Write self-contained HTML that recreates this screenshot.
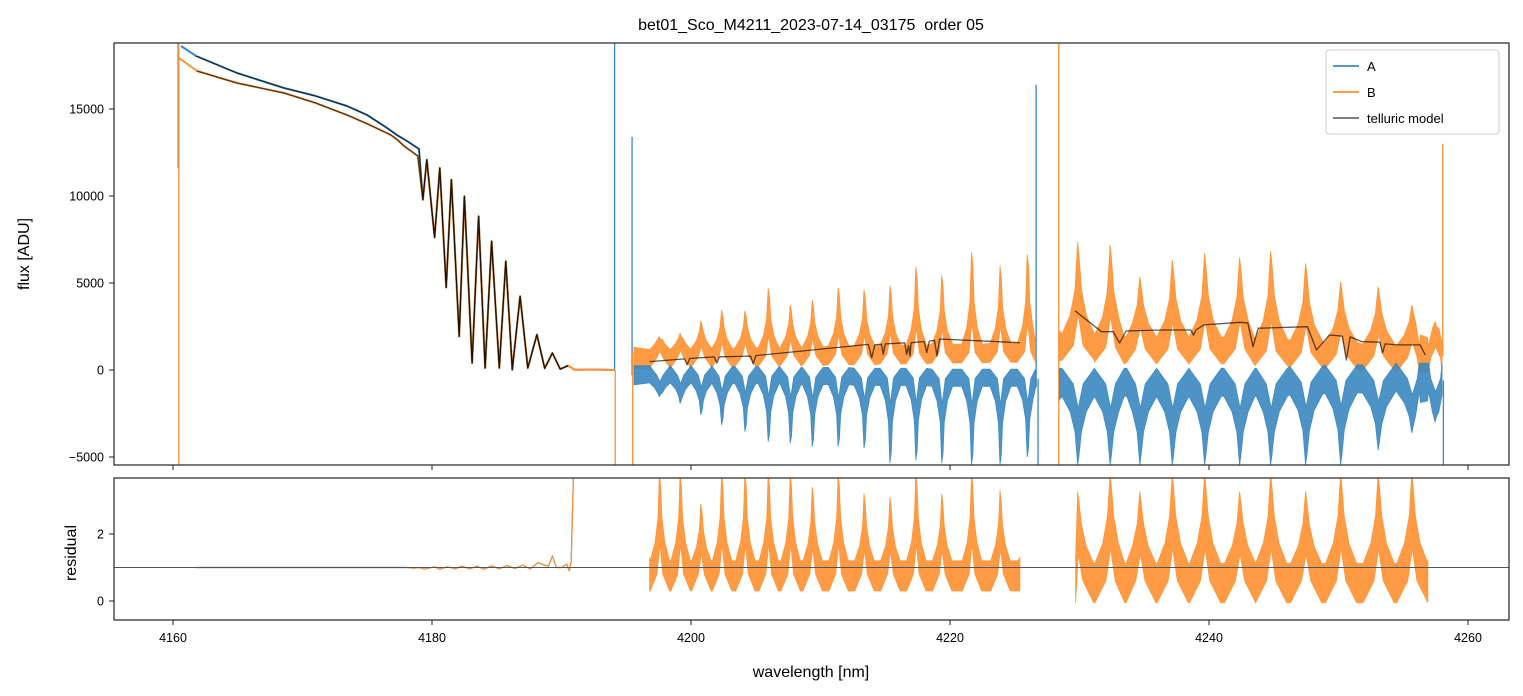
<!DOCTYPE html>
<html><head><meta charset="utf-8"><style>
html,body{margin:0;padding:0;background:#fff;}
svg{display:block;font-family:"Liberation Sans","DejaVu Sans",sans-serif;}
</style></head><body>
<svg id="chart" width="1523" height="696" viewBox="0 0 1523 696" xmlns="http://www.w3.org/2000/svg">
<defs>
<clipPath id="clipTop"><rect x="114" y="43" width="1395" height="422"/></clipPath>
<clipPath id="clipBot"><rect x="114" y="478" width="1395" height="142"/></clipPath>
</defs>
<text x="811" y="30" text-anchor="middle" font-size="16" style="white-space:pre">bet01_Sco_M4211_2023-07-14_03175&#160;&#160;order 05</text>
<g id="topMarks" clip-path="url(#clipTop)"></g>
<g id="botMarks" clip-path="url(#clipBot)"></g>
<rect x="114" y="43" width="1395" height="422" fill="none" stroke="#222" stroke-width="1.2"/>
<rect x="114" y="478" width="1395" height="142" fill="none" stroke="#222" stroke-width="1.2"/>
<g id="axes"></g>
<text transform="translate(29,254) rotate(-90)" text-anchor="middle" font-size="16">flux [ADU]</text>
<text transform="translate(76,553) rotate(-90)" text-anchor="middle" font-size="16">residual</text>
<text x="811" y="677" text-anchor="middle" font-size="16">wavelength [nm]</text>
<g>
<rect x="1326" y="50" width="173" height="84" rx="3" fill="#fff" fill-opacity="0.85" stroke="#ccc"/>
<g><line x1="1333" y1="66" x2="1359" y2="66" stroke="#1f77b4" stroke-width="1.6"/><text x="1367" y="71" font-size="13">A</text></g>
<g><line x1="1333" y1="92" x2="1359" y2="92" stroke="#ff7f0e" stroke-width="1.6"/><text x="1367" y="97" font-size="13">B</text></g>
<g><line x1="1333" y1="118" x2="1359" y2="118" stroke="#555" stroke-width="1.6"/><text x="1367" y="123" font-size="13">telluric model</text></g>
</g>
</svg>
<script>
// ---- data ----
const xTicks=[4160,4180,4200,4220,4240,4260];
const yTicksTop=[-5000,0,5000,10000,15000];
const yTicksBot=[0,2];
// region 1 smooth continuum
const a1W=[4160.62,4161.78,4164.94,4168.57,4171.0,4173.44,4175.0,4176.53,4177.3,4178.07,4179.0];
const a1V=[18620,18046,17069,16207,15750,15172,14650,13908,13500,13161,12700];
const b1W=[4160.46,4161.85,4164.94,4168.57,4171.0,4173.44,4175.0,4176.83,4177.3,4177.84,4178.9];
const b1V=[17931,17184,16494,15919,15350,14655,14150,13506,13250,12874,12300];
// region 1 oscillating telluric band (shared)
const oscW=[4179.3,4179.6,4180.2,4180.6,4181.1,4181.5,4182.1,4182.5,4183.1,4183.6,4184.1,4184.6,4185.2,4185.7,4186.2,4186.8,4187.4,4188.1,4188.7,4189.3,4189.9,4190.5,4191.0,4192.5,4194.1];
const oscV=[9787,12086,7615,11609,4741,10937,1934,9983,400,8834,115,7397,115,6248,20,4236,115,2030,100,977,50,250,20,30,0];
// region 2/3 peaks
const pkW2=[4197.6,4199.2,4200.8,4202.4,4204.2,4206.0,4207.7,4209.4,4211.4,4213.4,4215.4,4217.4,4219.4,4221.7,4223.9,4226.0];
const bPeak2=[1914,2107,2833,3448,3408,4694,3736,4023,4730,4598,4845,5937,5440,6782,5977,6667];
const bBase2=[700,700,750,750,800,800,850,850,900,900,950,950,1000,1000,1050,1050];
const aDip2=[-1534,-1914,-2586,-3161,-3546,-4121,-4213,-4408,-4408,-4500,-5345,-5172,-5345,-5460,-5460,-5000];
const aBase2=[-300,-300,-300,-350,-350,-350,-400,-400,-400,-450,-450,-450,-500,-500,-500,-500];
const pkW3=[4229.9,4232.4,4234.7,4237.2,4239.7,4242.4,4244.8,4247.5,4250.2,4253.1,4255.7,4257.5];
const bPeak3=[7374,7184,5362,6322,6705,6475,6839,6130,5075,4787,3736,2776];
const bBase3=[1400,1300,1200,1200,1200,1200,1100,1000,900,800,700,700];
const aDip3=[-5460,-5460,-5460,-5460,-5460,-5460,-5460,-5460,-5460,-4600,-3620,-3000];
const aBase3=[-800,-800,-800,-800,-800,-800,-800,-700,-600,-600,-500,-500];
// residual peaks (region 3 residual ends before last flux peak)
const resPkW3=[4229.9,4232.4,4234.7,4237.2,4239.7,4242.4,4244.8,4247.5,4250.2,4253.1,4255.7];
const resPeak2=[3.8,3.8,2.9,3.8,3.8,3.8,3.8,3.4,3.8,3.2,3.1,3.8,3.2,3.8,3.3,3.3];
const resPeak3=[3.27,3.8,3.27,3.8,3.8,3.27,3.8,3.27,3.8,3.8,3.8];
// telluric model region 2/3
const mW2=[4196.8,4199.5,4199.7,4199.9,4201.8,4202.0,4202.2,4204.6,4204.8,4205.0,4213.7,4213.95,4214.2,4214.7,4214.85,4215.0,4216.5,4216.65,4216.8,4216.9,4217.0,4218.0,4218.2,4218.4,4218.8,4219.0,4219.2,4225.4];
const mV2=[480,640,300,660,750,400,760,800,350,830,1470,700,1450,1480,900,1500,1560,900,1400,800,1570,1640,1000,1660,1700,800,1780,1570];
const mW3=[4229.65,4231.7,4232.6,4233.1,4233.6,4236.4,4238.6,4238.8,4239.0,4239.6,4242.4,4243.0,4243.4,4243.8,4244.2,4247.6,4248.3,4249.3,4250.3,4250.6,4250.9,4251.8,4253.2,4253.4,4253.6,4254.5,4256.3,4256.7];
const mV3=[3410,2200,2200,1550,2240,2300,2300,2000,2300,2590,2740,2700,1340,2400,2410,2490,1150,2010,1950,575,1900,1630,1600,977,1500,1440,1440,860];
// spikes [wavelength, from, to]
const spikeAW=[4160.4,4194.1,4195.45,4226.65,4226.8,4258.1];
const spikeAFrom=[11600,0,-300,-1000,-500,-600];
const spikeATo=[19500,19500,13400,16400,-6000,-6000];
const spikeBW=[4160.45,4194.15,4195.5,4228.4,4258.05];
const spikeBFrom=[19500,0,1000,-6000,800];
const spikeBTo=[-6000,-6000,-6000,19500,13000];
// residuals region 1
const resW1=[4161.7,4170,4178,4178.6,4179.0,4179.4,4180.2,4180.6,4181.2,4181.8,4182.3,4182.9,4183.5,4184.0,4184.6,4185.2,4185.8,4186.4,4187.0,4187.6,4188.2,4188.6,4189.0,4189.3,4189.6,4190.0,4190.4,4190.6,4190.75,4190.95];
const resV1=[1,1,1,0.98,1.0,0.95,1.02,0.95,1.02,0.96,1.04,0.96,1.04,0.95,1.05,0.96,1.06,0.97,1.07,0.96,1.15,1.08,1.04,1.35,1.0,1.0,1.1,0.9,1.2,4.2];
const resRange2=[4196.8,4225.4];
const resRange3=[4229.7,4256.9];
const range2=[4195.6,4226.6];
const range3=[4228.45,4258.0];

// ---- scales ----
const xs=w=>173+(w-4160)*12.95;
const yt=v=>370-v*87/5000;
const yb=r=>601-r*33.5;
const NS="http://www.w3.org/2000/svg";
const top_=document.getElementById('topMarks');
const bot=document.getElementById('botMarks');
const axes=document.getElementById('axes');
const BLUE="#3a87c0", ORANGE="#ff9030";

function mk(tag,attrs,parent){const e=document.createElementNS(NS,tag);for(const k in attrs)e.setAttribute(k,attrs[k]);parent.appendChild(e);return e;}
function poly(W,V,ys,color,width,parent,name){
  const pts=W.map((w,i)=>xs(w).toFixed(1)+","+ys(V[i]).toFixed(1)).join(" ");
  const e=mk('polyline',{points:pts,fill:'none',stroke:color,'stroke-width':width,'stroke-linejoin':'round'},parent);
  
  
  return e;
}
function band(pkW,pk,base,half,shoulder,range,ys,sign,color,parent,name){
  const up=[],lo=[];
  up.push([range[0],base[0]+half]);lo.push([range[0],base[0]-half]);
  for(let i=0;i<pkW.length;i++){
    const p=pkW[i],b=base[i],h=pk[i];
    const ext=(h-b);
    if(sign>0){
      up.push([p-shoulder,b+half*0.8]);up.push([p-shoulder*0.5,b+half+ext*0.15]);up.push([p-shoulder*0.2,b+half+ext*0.4]);up.push([p-0.04,h]);up.push([p+0.06,h*0.9]);up.push([p+shoulder*0.2,b+half+ext*0.4]);up.push([p+shoulder*0.5,b+half+ext*0.15]);up.push([p+shoulder,b+half*0.8]);
      lo.push([p-shoulder,b-half]);lo.push([p-shoulder*0.3,b]);lo.push([p,b+ext*0.3]);lo.push([p+shoulder*0.3,b]);lo.push([p+shoulder,b-half]);
    }else{
      lo.push([p-shoulder,b-half*0.8]);lo.push([p-shoulder*0.5,b-half+ext*0.15]);lo.push([p-shoulder*0.2,b-half+ext*0.4]);lo.push([p-0.04,h]);lo.push([p+0.06,h*0.9]);lo.push([p+shoulder*0.2,b-half+ext*0.4]);lo.push([p+shoulder*0.5,b-half+ext*0.15]);lo.push([p+shoulder,b-half*0.8]);
      up.push([p-shoulder,b+half]);up.push([p-shoulder*0.3,b]);up.push([p,b+ext*0.3]);up.push([p+shoulder*0.3,b]);up.push([p+shoulder,b+half]);
    }
  }
  const lb=base[base.length-1];
  up.push([range[1],lb+half]);lo.push([range[1],lb-half]);
  const f=a=>a.filter(q=>q[0]>=range[0]&&q[0]<=range[1]).sort((m,n)=>m[0]-n[0]);
  const U=f(up),L=f(lo).reverse();
  const pts=U.concat(L).map(q=>xs(q[0]).toFixed(1)+","+ys(q[1]).toFixed(1)).join(" ");
  const e=mk('polygon',{points:pts,fill:color,'fill-opacity':0.9,stroke:color,'stroke-width':0.8,'stroke-opacity':0.9},parent);
  
  
}
function spikes(W,F,T,color,name){
  for(let i=0;i<W.length;i++){
    const e=mk('line',{x1:xs(W[i]),x2:xs(W[i]),y1:yt(F[i]),y2:yt(T[i]),stroke:color,'stroke-width':1.3},top_);
    
    
  }
}

// ---- top panel ----
spikes(spikeAW,spikeAFrom,spikeATo,BLUE,'spike-a');
spikes(spikeBW,spikeBFrom,spikeBTo,ORANGE,'spike-b');
poly(a1W.concat(oscW),a1V.concat(oscV),yt,BLUE,2,top_,'series-a-region1');
poly(b1W.concat(oscW),b1V.concat(oscV),yt,ORANGE,2,top_,'series-b-region1');
band(pkW2,bPeak2,bBase2,600,0.8,range2,yt,1,ORANGE,top_,'series-b-region2');
band(pkW2,aDip2,aBase2,550,0.8,range2,yt,-1,BLUE,top_,'series-a-region2');
band(pkW3,bPeak3,bBase3,850,1.25,range3,yt,1,ORANGE,top_,'series-b-region3');
band(pkW3,aDip3,aBase3,900,1.25,range3,yt,-1,BLUE,top_,'series-a-region3');
poly(a1W.slice(1).concat(oscW.slice(0,-3)),a1V.slice(1).concat(oscV.slice(0,-3)),yt,'rgba(0,0,0,0.65)',1.3,top_,'telluric-model-a-region1');
poly(b1W.slice(1).concat(oscW.slice(0,-3)),b1V.slice(1).concat(oscV.slice(0,-3)),yt,'rgba(0,0,0,0.65)',1.3,top_,'telluric-model-b-region1');
poly(mW2,mV2,yt,'rgba(0,0,0,0.65)',1.3,top_,'telluric-model-region2');
poly(mW3,mV3,yt,'rgba(0,0,0,0.65)',1.3,top_,'telluric-model-region3');

// ---- bottom panel ----
band(pkW2,resPeak2,pkW2.map(()=>0.8),0.5,0.75,resRange2,yb,1,ORANGE,bot,'residual-region2');
band(resPkW3,resPeak3,resPkW3.map(()=>0.6),0.65,1.2,resRange3,yb,1,ORANGE,bot,'residual-region3');
poly(resW1,resV1,yb,BLUE,1.2,bot,'residual-a-region1');
poly(resW1,resV1,yb,ORANGE,1.2,bot,'residual-b-region1');
{const e=mk('line',{x1:114,x2:1509,y1:yb(1),y2:yb(1),stroke:'#555','stroke-width':0.9},bot);

}

// ---- axes ----
xTicks.forEach(t=>{
  const x=xs(t);
  const a=mk('line',{x1:x,x2:x,y1:465,y2:470,stroke:'#222','stroke-width':1},axes);
  
  
  const b=mk('line',{x1:x,x2:x,y1:620,y2:625,stroke:'#222','stroke-width':1},axes);
  
  
  const tx=mk('text',{x:x,y:642,'text-anchor':'middle','font-size':12.5},axes);
  tx.textContent=t;
  
  
});
yTicksTop.forEach(t=>{
  const y=yt(t);
  const a=mk('line',{x1:109,x2:114,y1:y,y2:y,stroke:'#222','stroke-width':1},axes);
  
  
  const tx=mk('text',{x:104,y:y+4.5,'text-anchor':'end','font-size':12.5},axes);
  tx.textContent=t<0?'\u2212'+Math.abs(t):t;
  
  
});
yTicksBot.forEach(t=>{
  const y=yb(t);
  const a=mk('line',{x1:109,x2:114,y1:y,y2:y,stroke:'#222','stroke-width':1},axes);
  
  
  const tx=mk('text',{x:104,y:y+4.5,'text-anchor':'end','font-size':12.5},axes);
  tx.textContent=t;
  
  
});
</script>
</body></html>
